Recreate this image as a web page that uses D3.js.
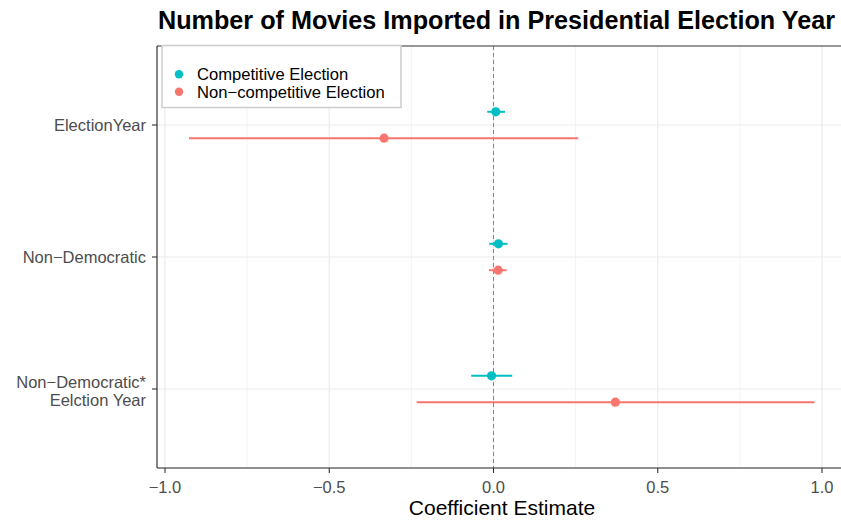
<!DOCTYPE html>
<html><head><meta charset="utf-8">
<script src="https://cdn.jsdelivr.net/npm/d3@7"></script>
<style>body{margin:0;background:#fff}svg{display:block;font-family:"Liberation Sans",Arial,sans-serif}</style>
</head><body><svg id="c" width="841" height="520"></svg>
<script>
const categories = ["ElectionYear", "Non\u2212Democratic", "Non\u2212Democratic*\nEelction Year"];
const seriesNames = ["Competitive Election", "Non\u2212competitive Election"];
const seriesColors = ["#00BFC4", "#F8766D"];
const competitiveEst = [0.007, 0.015, -0.006];
const competitiveLow = [-0.019, -0.013, -0.068];
const competitiveHigh = [0.035, 0.043, 0.057];
const noncompEst = [-0.333, 0.014, 0.371];
const noncompLow = [-0.927, -0.014, -0.234];
const noncompHigh = [0.258, 0.040, 0.977];
const xTicks = [-1.0, -0.5, 0.0, 0.5, 1.0];
const xMinor = [-0.75, -0.25, 0.25, 0.75];

(function () {
const svg = d3.select("#c");
const pLeft = 157, pTop = 46, pBottom = 468;
const x = d3.scaleLinear().domain([-1, 1]).range([165, 822]);
const xRight = x(1.076);
const yBand = d3.scalePoint().domain(categories).range([125, 389]);
const dodge = 13.2;

const g = svg.append("g");
// gridlines
xMinor.forEach(v => g.append("line").attr("x1", x(v)).attr("x2", x(v)).attr("y1", pTop).attr("y2", pBottom).attr("stroke", "#EBEBEB").attr("stroke-width", 0.6));
xTicks.forEach(v => g.append("line").attr("x1", x(v)).attr("x2", x(v)).attr("y1", pTop).attr("y2", pBottom).attr("stroke", "#EBEBEB").attr("stroke-width", 1.2));
categories.forEach(c => g.append("line").attr("x1", pLeft).attr("x2", xRight).attr("y1", yBand(c)).attr("y2", yBand(c)).attr("stroke", "#EBEBEB").attr("stroke-width", 1.2));
// zero dashed line
g.append("line").attr("x1", x(0)).attr("x2", x(0)).attr("y1", pTop).attr("y2", pBottom).attr("stroke", "#7a7a7a").attr("stroke-width", 0.9).attr("stroke-dasharray", "4,3");

// data
const series = [
  {name: seriesNames[0], color: seriesColors[0], est: competitiveEst, lo: competitiveLow, hi: competitiveHigh, off: -dodge},
  {name: seriesNames[1], color: seriesColors[1], est: noncompEst, lo: noncompLow, hi: noncompHigh, off: dodge}
];
series.forEach(s => {
  const d = categories.map((c, i) => ({c, e: s.est[i], l: s.lo[i], h: s.hi[i]}));
  g.selectAll(null).data(d).enter().append("line")
    .attr("x1", r => x(r.l)).attr("x2", r => x(r.h))
    .attr("y1", r => yBand(r.c) + s.off).attr("y2", r => yBand(r.c) + s.off)
    .attr("stroke", s.color).attr("stroke-width", 2);
  g.selectAll(null).data(d).enter().append("circle")
    .attr("cx", r => x(r.e)).attr("cy", r => yBand(r.c) + s.off).attr("r", 4.6)
    .attr("fill", s.color);
});

// axes lines
g.append("line").attr("x1", pLeft).attr("x2", xRight).attr("y1", pTop).attr("y2", pTop).attr("stroke", "#333").attr("stroke-width", 1.1);
g.append("line").attr("x1", pLeft).attr("x2", pLeft).attr("y1", pTop).attr("y2", pBottom).attr("stroke", "#222").attr("stroke-width", 1.1);
g.append("line").attr("x1", pLeft).attr("x2", xRight).attr("y1", pBottom).attr("y2", pBottom).attr("stroke", "#222").attr("stroke-width", 1.1);

// x axis ticks
const fmt = v => (v < 0 ? "\u2212" : "") + Math.abs(v).toFixed(1);
xTicks.forEach(v => {
  g.append("line").attr("x1", x(v)).attr("x2", x(v)).attr("y1", pBottom).attr("y2", pBottom + 5).attr("stroke", "#333").attr("stroke-width", 1.1);
  g.append("text").attr("x", x(v)).attr("y", pBottom + 25).attr("text-anchor", "middle").attr("font-size", 16.5).attr("fill", "#4D4D4D").text(fmt(v));
});
// y axis ticks
categories.forEach(c => {
  const yy = yBand(c);
  g.append("line").attr("x1", pLeft - 5).attr("x2", pLeft).attr("y1", yy).attr("y2", yy).attr("stroke", "#333").attr("stroke-width", 1.1);
  const lines = c.split("\n");
  const t = g.append("text").attr("text-anchor", "end").attr("font-size", 16.5).attr("fill", "#4D4D4D");
  lines.forEach((ln, i) => {
    const dy = lines.length === 1 ? 6 : (i === 0 ? -1.5 : 16.5);
    t.append("tspan").attr("x", pLeft - 11).attr("y", yy + dy).text(ln);
  });
});

// title and x label
svg.append("text").attr("x", 158).attr("y", 29).attr("font-size", 25.2).attr("font-weight", "bold").attr("fill", "#000").text("Number of Movies Imported in Presidential Election Year");
svg.append("text").attr("x", (pLeft + xRight) / 2).attr("y", 515).attr("text-anchor", "middle").attr("font-size", 21).attr("fill", "#000").text("Coefficient Estimate");

// legend
const lg = svg.append("g");
lg.append("rect").attr("x", 162).attr("y", 45.5).attr("width", 239).attr("height", 62).attr("fill", "#fff").attr("stroke", "#CCCCCC").attr("stroke-width", 1.5);
series.forEach((s, i) => {
  const yy = 74.2 + i * 17.5;
  lg.append("circle").attr("cx", 179).attr("cy", yy).attr("r", 4.2).attr("fill", s.color);
  lg.append("text").attr("x", 197).attr("y", yy + 6).attr("font-size", 16.6).attr("fill", "#000").text(s.name);
});
})();
</script></body></html>
